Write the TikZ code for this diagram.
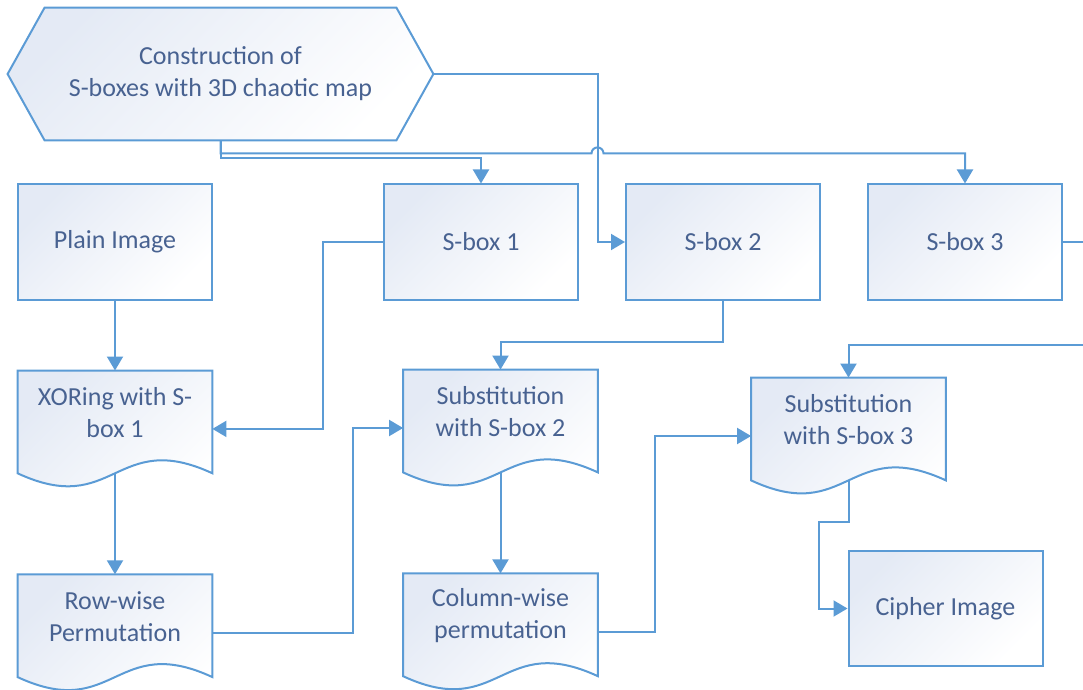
\documentclass[tikz,border=0pt]{standalone}
\usepackage{fontspec}
\setmainfont{Carlito}
\usetikzlibrary{arrows.meta,positioning,backgrounds}

\definecolor{flowline}{RGB}{91,155,213}
\definecolor{flowtext}{RGB}{72,98,145}
\definecolor{flowfill}{RGB}{228,234,245}

% wavy document outline round a named node
\newcommand{\docoutline}[1]{%
  \begin{pgfonlayer}{background}
    \path[ShapeStyle] (#1.north west) -- (#1.north east) -- ([yshift=-9pt]#1.south east)
      .. controls +(-48.5pt,22.5pt) and +(48.5pt,-22.5pt) .. ([yshift=-9pt]#1.south west) -- cycle;
  \end{pgfonlayer}}
% pointed hexagon round a named node
\newcommand{\hexoutline}[1]{%
  \begin{pgfonlayer}{background}
    \path[ShapeStyle] (#1.west) -- ([xshift=18.5pt]#1.north west) -- ([xshift=-18.5pt]#1.north east)
      -- (#1.east) -- ([xshift=-18.5pt]#1.south east) -- ([xshift=18.5pt]#1.south west) -- cycle;
  \end{pgfonlayer}}

\begin{document}
\begin{tikzpicture}[x=0.5pt, y=-0.5pt, font=\fontsize{13}{16}\selectfont,
  >={Triangle[width=8pt,length=7pt]}]
\tikzset{ShapeStyle/.style = {draw=flowline, line width=1pt, top color=flowfill, bottom color=white, shading angle=45}}
\tikzset{BoxStyle/.style = {ShapeStyle, minimum width=97pt, minimum height=57.5pt, inner sep=0pt, align=center, text=flowtext}}
\tikzset{DocStyle/.style = {minimum width=97pt, minimum height=42pt, inner sep=0pt, align=center, text=flowtext}}
\tikzset{HexStyle/.style = {minimum width=212.5pt, minimum height=66pt, inner sep=0pt, align=center, text=flowtext}}
\tikzset{EdgeStyle/.style = {->, draw=flowline, line width=1pt}}
\useasboundingbox (0,0) rectangle (1083,690);
\clip (0,0) rectangle (1083,690);
\node[HexStyle](C) at (220.5,74){Construction of\\S-boxes with 3D chaotic map};
\node[BoxStyle](P) at (115,242){Plain Image};
\node[BoxStyle](S1) at (481,242){S-box 1};
\node[BoxStyle,right=23pt of S1](S2){S-box 2};
\node[BoxStyle,right=23pt of S2](S3){S-box 3};
\node[DocStyle,below=35pt of P](X){XORing with S-\\box 1};
\node[DocStyle,below=59.5pt of X](R){Row-wise\\Permutation};
\node[DocStyle](U2) at (500.5,412){Substitution\\with S-box 2};
\node[DocStyle,below=59.5pt of U2](W){Column-wise\\permutation};
\node[DocStyle](U3) at (848.5,420){Substitution\\with S-box 3};
\node[BoxStyle](E) at (945.5,608.5){Cipher Image};
\hexoutline{C}
\docoutline{X}
\docoutline{R}
\docoutline{U2}
\docoutline{W}
\docoutline{U3}
% s-box feeds
\draw[EdgeStyle](C.east) -- ++(82.5pt,0) |- (S2.west);
\draw[EdgeStyle](C.south) -- ++(0,-9pt) -| (S1.north);
\draw[EdgeStyle](C.south) -- ++(0,-6.5pt) -- ++(185.5pt,0)
	arc[start angle=180, end angle=0, radius=3pt] -| (S3.north);
% image path
\draw[EdgeStyle](P.south) -- (X.north);
\draw[EdgeStyle](S1.west) -- ++(-30pt,0) |- ([yshift=-8pt]X.east);
\draw[EdgeStyle]([yshift=-9pt]X.south) -- (R.north);
\draw[EdgeStyle]([yshift=-8pt]R.east) -- ++(70.5pt,0) |- ([yshift=-8pt]U2.west);
\draw[EdgeStyle](S2.south) -- ++(0,-20.5pt) -| (U2.north);
\draw[EdgeStyle]([yshift=-9pt]U2.south) -- (W.north);
\draw[EdgeStyle]([yshift=-8pt]W.east) -- ++(28.5pt,0) |- ([yshift=-8pt]U3.west);
\draw[EdgeStyle](S3.east) -- ++(25pt,0) |- ([yshift=16.5pt]U3.north) -- (U3.north);
\draw[EdgeStyle]([yshift=-9pt]U3.south) |- ++(-15pt,-21pt) |- (E.west);
\end{tikzpicture}
\end{document}
